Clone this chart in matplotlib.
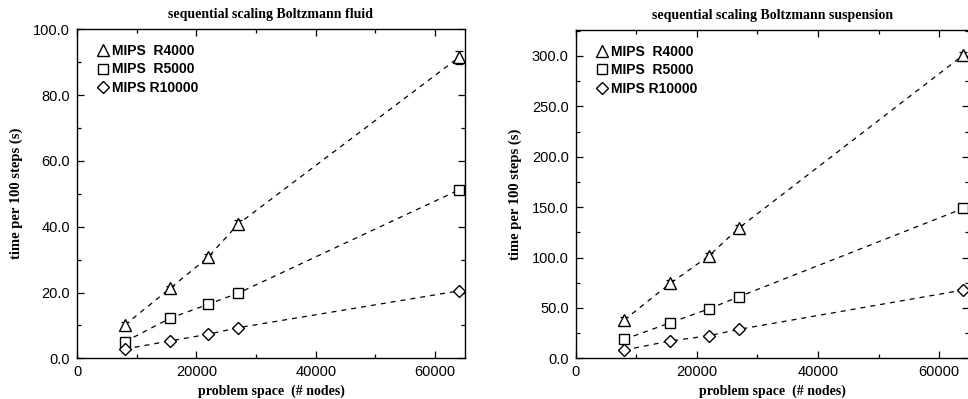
import matplotlib
matplotlib.use("Agg")
import matplotlib.pyplot as plt
from matplotlib.ticker import MultipleLocator, FormatStrFormatter

# problem sizes (lattice nodes)
nodes = [8000, 15625, 21952, 27000, 64000]

# sequential timings, Boltzmann fluid (s per 100 steps)
fluid_r4000 = [10.1, 21.3, 30.7, 40.8, 91.5]
fluid_r5000 = [5.0, 12.2, 16.4, 19.8, 51.2]
fluid_r10000 = [2.8, 5.3, 7.3, 9.3, 20.5]
fluid_err_r4000 = [0.8, 0.8, 1.0, 1.2, 2.0]
fluid_err_r5000 = [1.2, 1.0, 0.8, 0.8, 1.0]
fluid_err_r10000 = [0.4, 0.3, 0.3, 0.3, 0.5]

# sequential timings, Boltzmann suspension (s per 100 steps)
susp_r4000 = [38.0, 74.4, 101.5, 129.6, 301.0]
susp_r5000 = [18.8, 35.3, 49.0, 61.2, 148.8]
susp_r10000 = [8.2, 17.2, 22.4, 28.8, 67.8]
susp_err_r4000 = [3.0, 3.0, 3.0, 3.0, 3.0]
susp_err_r5000 = [2.5, 2.5, 2.5, 2.5, 2.5]
susp_err_r10000 = [1.5, 1.5, 1.5, 1.5, 1.5]

labels = ["MIPS  R4000", "MIPS  R5000", "MIPS R10000"]
markers = ["^", "s", "D"]
msizes = [8, 7, 6]

titles = ["sequential scaling Boltzmann fluid",
          "sequential scaling Boltzmann suspension"]
xlabel = "problem space  (# nodes)"
ylabel = "time per 100 steps (s)"

serif = ["Liberation Serif", "DejaVu Serif"]
sans = ["Liberation Sans", "DejaVu Sans"]

W, H = 968, 399
fig = plt.figure(figsize=(W / 100, H / 100), dpi=100)

def px_axes(x0, x1, ytop, ybot):
    return fig.add_axes([x0 / W, (H - ybot) / H, (x1 - x0) / W, (ybot - ytop) / H])

ax1 = px_axes(77, 465, 29.3, 358.3)
ax2 = px_axes(575.7, 969.5, 30, 358.3)

panels = [
    (ax1, [fluid_r4000, fluid_r5000, fluid_r10000],
     [fluid_err_r4000, fluid_err_r5000, fluid_err_r10000], 100, 20, 10),
    (ax2, [susp_r4000, susp_r5000, susp_r10000],
     [susp_err_r4000, susp_err_r5000, susp_err_r10000], 325.8, 50, 25),
]

for (ax, series, errs, ytop, ymaj, ymin), title in zip(panels, titles):
    for vals, err, lab, m, ms in zip(series, errs, labels, markers, msizes):
        ax.errorbar(nodes, vals, yerr=err, fmt="none", ecolor="black",
                    elinewidth=0.9, capsize=3, capthick=0.9)
        ax.plot(nodes, vals, color="black", lw=0.9, ls=(0, (4, 4)))
        ax.plot(nodes, vals, ls="none", marker=m, ms=ms, mfc="white",
                mec="black", mew=1.0, label=lab)
    ax.set_xlim(0, 65000)
    ax.set_ylim(0, ytop)
    ax.xaxis.set_major_locator(MultipleLocator(20000))
    ax.xaxis.set_minor_locator(MultipleLocator(10000))
    ax.yaxis.set_major_locator(MultipleLocator(ymaj))
    ax.yaxis.set_minor_locator(MultipleLocator(ymin))
    ax.yaxis.set_major_formatter(FormatStrFormatter("%.1f"))
    ax.tick_params(which="both", direction="in", top=True, right=True,
                   width=0.9, colors="black")
    ax.tick_params(which="major", length=5, labelsize=10.5, pad=5)
    ax.tick_params(which="minor", length=3)
    for lbl in ax.get_xticklabels() + ax.get_yticklabels():
        lbl.set_family(sans)
    for sp in ax.spines.values():
        sp.set_linewidth(1.0)
    ax.set_title(title, family=serif, fontweight="bold", fontsize=10, pad=8)
    ax.set_xlabel(xlabel, family=serif, fontweight="bold", fontsize=10, labelpad=4)
    ax.set_ylabel(ylabel, family=serif, fontweight="bold", fontsize=10.5, labelpad=7)
    leg = ax.legend(loc="upper left", frameon=False, handlelength=0.6,
                    handletextpad=0.35, labelspacing=0.32,
                    borderaxespad=0.3, bbox_to_anchor=(0.032, 0.985),
                    prop={"family": sans, "weight": "bold", "size": 10})

fig.savefig("out.png", dpi=100)
